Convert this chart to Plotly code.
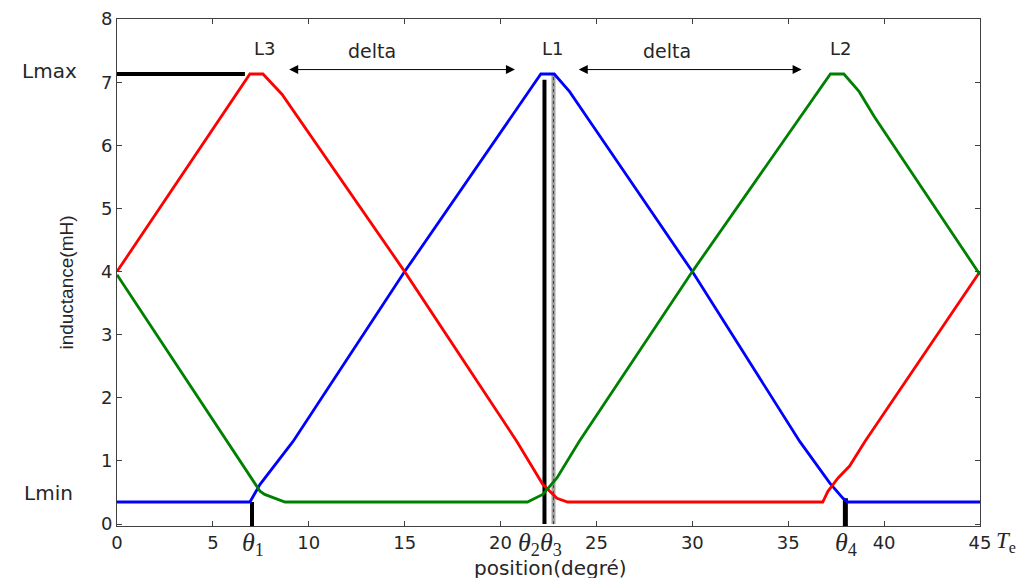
import plotly.graph_objects as go

# ---- data ----
x_L1 = [0, 6.93, 7.46, 9.18, 15.0, 21.0, 22.1, 22.8, 23.6, 24.5, 30.0, 35.6, 37.17, 37.85, 38.1, 45]
y_L1 = [0.35, 0.35, 0.63, 1.31, 4.0, 6.66, 7.13, 7.13, 6.85, 6.45, 4.0, 1.31, 0.65, 0.41, 0.35, 0.35]

x_L3 = [0, 5.9, 6.93, 7.61, 8.6, 15.0, 20.85, 22.2, 22.94, 23.5, 36.8, 37.07, 37.6, 38.2, 39.0, 45]
y_L3 = [4.0, 6.66, 7.13, 7.13, 6.81, 4.0, 1.31, 0.63, 0.41, 0.35, 0.35, 0.52, 0.73, 0.92, 1.31, 4.0]

x_L2 = [0, 5.73, 7.46, 7.7, 8.76, 21.4, 22.2, 22.94, 24.1, 30.0, 36.1, 37.2, 37.9, 38.7, 39.5, 45]
y_L2 = [3.95, 1.31, 0.52, 0.47, 0.35, 0.35, 0.47, 0.73, 1.31, 4.0, 6.66, 7.13, 7.13, 6.85, 6.45, 3.95]

Lmax = 7.13
Lmin = 0.35
theta1, theta2, theta3, theta4 = 7.04, 22.29, 22.76, 37.98
x_ticks = [0, 5, 10, 15, 20, 25, 30, 35, 40, 45]
y_ticks = [0, 1, 2, 3, 4, 5, 6, 7, 8]

fig = go.Figure()

def seg(xs, ys, color, width, dash="solid"):
    fig.add_trace(go.Scatter(x=xs, y=ys, mode="lines", line=dict(color=color, width=width, dash=dash),
                             showlegend=False, hoverinfo="skip"))

# marker lines
seg([0, 6.67], [Lmax, Lmax], "black", 4)
seg([theta2, theta2], [0, 7.04], "black", 4)
seg([theta3, theta3], [0, Lmax], "#a0a0a0", 4)
seg([theta3, theta3], [0, Lmax], "#404040", 1, "dot")
seg([theta1, theta1], [-0.03, Lmin], "black", 4)
seg([theta4, theta4], [-0.03, 0.41], "black", 5)

# curves
fig.add_trace(go.Scatter(x=x_L1, y=y_L1, mode="lines", name="L1", line=dict(color="#0000ff", width=2.8)))
fig.add_trace(go.Scatter(x=x_L3, y=y_L3, mode="lines", name="L3", line=dict(color="#ff0000", width=2.8)))
fig.add_trace(go.Scatter(x=x_L2, y=y_L2, mode="lines", name="L2", line=dict(color="#008000", width=2.8)))

sans = "DejaVu Sans, sans-serif"
serif = "Liberation Serif, DejaVu Serif, serif"
tc = "#262626"
ann = []
for txt, xv in [("L3", 7.7), ("L1", 22.7), ("L2", 37.7)]:
    ann.append(dict(x=xv, y=7.53, text=txt, showarrow=False, xref="x", yref="y",
                    font=dict(family=sans, size=18, color=tc)))
for xv in [13.3, 28.7]:
    ann.append(dict(x=xv, y=7.5, text="delta", showarrow=False, xref="x", yref="y",
                    font=dict(family=sans, size=19, color=tc)))
for x0, x1 in [(8.9, 20.75), (24.0, 35.7)]:
    ann.append(dict(x=x1, y=7.2, ax=x0, ay=7.2, xref="x", yref="y", axref="x", ayref="y",
                    showarrow=True, arrowhead=2, arrowsize=1.8, arrowwidth=1, arrowcolor="black",
                    startarrowhead=2, startarrowsize=1.8, arrowside="end+start", text=""))
ann.append(dict(x=-0.1124, y=7.18, xref="paper", yref="y", text="Lmax", showarrow=False,
                xanchor="left", yanchor="middle", font=dict(family=sans, size=20, color=tc)))
ann.append(dict(x=-0.110, y=0.50, xref="paper", yref="y", text="Lmin", showarrow=False,
                xanchor="left", yanchor="middle", font=dict(family=sans, size=20, color=tc)))
for xv, txt in [(7.1, "<i>θ</i><sub>1</sub>"), (38.0, "<i>θ</i><sub>4</sub>"),
                (22.05, "<i>θ</i><sub>2</sub><i>θ</i><sub>3</sub>")]:
    ann.append(dict(x=xv, y=0, xref="x", yref="paper", text=txt, showarrow=False,
                    xanchor="center", yanchor="top", yshift=0,
                    font=dict(family=serif, size=26, color=tc)))
ann.append(dict(x=1.0165, y=0, xref="paper", yref="paper", text="<i>T</i><sub>e</sub>", xanchor="left",
                showarrow=False, yanchor="top", yshift=0, font=dict(family=serif, size=23, color=tc)))
ann.append(dict(x=-0.058, y=0.48, xref="paper", yref="paper", text="inductance(mH)", textangle=-90,
                xanchor="center", yanchor="middle",
                showarrow=False, font=dict(family="Liberation Sans, Arial, sans-serif", size=19, color=tc)))
ann.append(dict(x=0.502, y=-0.083, xref="paper", yref="paper", text="position(degré)", showarrow=False,
                xanchor="center", yanchor="middle", font=dict(family=sans, size=20, color=tc)))

fig.update_layout(
    width=1024, height=578,
    margin=dict(l=109, r=52, t=11, b=60, autoexpand=False),
    plot_bgcolor="white", paper_bgcolor="white",
    showlegend=False,
    annotations=ann,
    font=dict(family=sans, size=18, color=tc),
)
axis_style = dict(ticks="inside", ticklen=5, tickcolor="#404040", showline=True, linecolor="#404040",
                  linewidth=1, mirror="ticks", showgrid=False, zeroline=False, automargin=False,
                  tickfont=dict(family=sans, size=18, color=tc))
fig.update_xaxes(range=[0, 45], tickvals=x_ticks, **axis_style)
fig.update_yaxes(range=[-0.03, 8.001], tickvals=y_ticks, **axis_style)

fig.write_html("out.html")
